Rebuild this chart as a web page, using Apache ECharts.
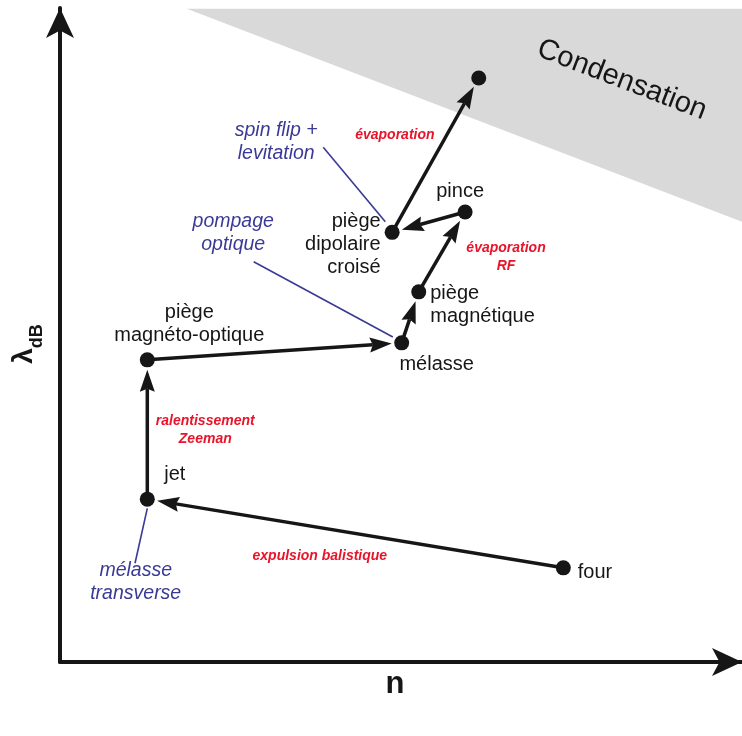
<!DOCTYPE html>
<html><head><meta charset="utf-8">
<script src="https://cdn.jsdelivr.net/npm/echarts@6/dist/echarts.min.js"></script>
<style>html,body{margin:0;padding:0;background:#fff}#c{width:742px;height:736px}</style>
</head><body><div id="c"></div>
<script>
// Stages of the cooling path (schematic units: n on x, lambda_dB on y)
const stageNames = ['four','jet','piège\nmagnéto-optique','mélasse','piège\nmagnétique','pince','piège\ndipolaire\ncroisé',''];
const stageN      = [73.8, 12.8, 12.8, 50.1, 52.6, 59.4, 48.7, 61.4];
const stageLambda = [14.4, 24.9, 46.2, 48.8, 56.6, 68.8, 65.7, 89.3];
// transitions (from index -> to index)
const stepFrom = [0, 1, 2, 3, 4, 5, 6];
const stepTo   = [1, 2, 3, 4, 5, 6, 7];
// condensation region boundary
const condN      = [18.6, 100, 100];
const condLambda = [99.9, 99.9, 67.3];
const condLabel = 'Condensation';
const condLabelPos = [82.4, 89.0];
// red process annotations
const procText   = ['évaporation', 'évaporation\nRF', 'ralentissement\nZeeman', 'expulsion balistique'];
const procN      = [49.1, 65.4, 21.3, 38.1];
const procLambda = [80.6, 61.9, 35.5, 16.2];
// blue technique annotations with leader lines
const techText   = ['spin flip +\nlevitation', 'pompage\noptique', 'mélasse\ntransverse'];
const techN      = [31.7, 25.4, 11.1];
const techLambda = [79.5, 65.6, 12.2];
const leadN1 = [38.6, 28.4, 12.8], leadL1 = [78.7, 61.2, 23.5];
const leadN2 = [47.7, 48.8, 11.0], leadL2 = [67.3, 49.7, 15.1];

const BLACK = '#161616', RED = '#e8142a', BLUE = '#3a3a96', GRAY = '#d9d9d9';
const FONT = '"Liberation Sans", Arial, sans-serif';

// label placement per stage
const labelCfg = [
  {position:'right', offset:[2,5], align:'left'},
  {position:'top', offset:[17,-1], align:'left'},
  {position:'top', offset:[42,0], align:'center'},
  {position:'bottom', offset:[35,-2], align:'center'},
  {position:'right', offset:[-1,13], align:'left'},
  {position:'top', offset:[-5,3], align:'center'},
  {position:'left', offset:[1,12], align:'right'},
  {show:false}
];

const chart = echarts.init(document.getElementById('c'), null, {renderer:'canvas'});

const axisBase = {
  type:'value', min:0, max:100,
  axisTick:{show:false}, axisLabel:{show:false}, splitLine:{show:false},
  axisLine:{show:true, symbol:['none','arrow'], symbolSize:[21,30], lineStyle:{color:BLACK, width:4}}
};

chart.setOption({
  animation:false,
  backgroundColor:'#fff',
  grid:{left:60, right:0, top:8, bottom:74},
  xAxis: Object.assign({}, axisBase, {
    name:'n', nameLocation:'middle', nameGap:7,
    nameTextStyle:{fontFamily:FONT, fontWeight:'bold', fontSize:31, color:BLACK, verticalAlign:'top', padding:[0,12,0,0]}
  }),
  yAxis: Object.assign({}, axisBase, {
    name:'{l|λ}{s|dB}', nameLocation:'middle', nameGap:14, nameRotate:90,
    nameTextStyle:{color:BLACK, rich:{
      l:{fontFamily:FONT, fontWeight:'bold', fontSize:28, color:BLACK, padding:[0,0,8,0], verticalAlign:'bottom'},
      s:{fontFamily:FONT, fontWeight:'bold', fontSize:18, color:BLACK, verticalAlign:'bottom', padding:[0,18,0,0]}
    }}
  }),
  series:[
    { // condensation region
      type:'custom', coordinateSystem:'cartesian2d', clip:false, silent:true, z:1,
      data:[0],
      renderItem:function(params, api){
        const pts = condN.map((n,i)=>api.coord([n, condLambda[i]]));
        const c = api.coord(condLabelPos);
        return {type:'group', children:[
          {type:'polygon', shape:{points:pts}, style:{fill:GRAY}},
          {type:'text', x:c[0], y:c[1], rotation:-21*Math.PI/180,
           style:{text:condLabel, fill:BLACK, font:'29px '+FONT, align:'center', verticalAlign:'middle'}}
        ]};
      }
    },
    { // leader lines
      type:'custom', coordinateSystem:'cartesian2d', clip:false, silent:true, z:2,
      data:techText.map((t,i)=>[leadN1[i], leadL1[i], leadN2[i], leadL2[i]]),
      renderItem:function(params, api){
        const a = api.coord([api.value(0), api.value(1)]);
        const b = api.coord([api.value(2), api.value(3)]);
        return {type:'line', shape:{x1:a[0],y1:a[1],x2:b[0],y2:b[1]}, style:{stroke:BLUE, lineWidth:1.6}};
      }
    },
    { // transition arrows
      type:'custom', coordinateSystem:'cartesian2d', clip:false, silent:true, z:3,
      data:stepFrom.map((f,i)=>[stageN[f], stageLambda[f], stageN[stepTo[i]], stageLambda[stepTo[i]]]),
      renderItem:function(params, api){
        const a = api.coord([api.value(0), api.value(1)]);
        const b = api.coord([api.value(2), api.value(3)]);
        const dx=b[0]-a[0], dy=b[1]-a[1], L=Math.hypot(dx,dy);
        const ux=dx/L, uy=dy/L, nx=-uy, ny=ux;
        const gap=10, headLen=22, headW=7.5, notch=3;
        const tip=[b[0]-ux*gap, b[1]-uy*gap];
        const base=[tip[0]-ux*headLen, tip[1]-uy*headLen];
        const np=[tip[0]-ux*(headLen-notch), tip[1]-uy*(headLen-notch)];
        return {type:'group', children:[
          {type:'line', shape:{x1:a[0],y1:a[1],x2:np[0],y2:np[1]}, style:{stroke:BLACK, lineWidth:3.5}},
          {type:'polygon', shape:{points:[tip,[base[0]+nx*headW,base[1]+ny*headW],np,[base[0]-nx*headW,base[1]-ny*headW]]}, style:{fill:BLACK}}
        ]};
      }
    },
    { // stages
      type:'scatter', symbol:'circle', symbolSize:15, z:4, silent:true,
      itemStyle:{color:BLACK, opacity:1},
      data:stageN.map((n,i)=>({
        value:[n, stageLambda[i]], name:stageNames[i],
        label:Object.assign({show:true, formatter:'{b}', color:BLACK, fontFamily:FONT, fontSize:20, lineHeight:23, distance:5}, labelCfg[i])
      }))
    },
    { // annotations
      type:'custom', coordinateSystem:'cartesian2d', clip:false, silent:true, z:5,
      data:procText.map((t,i)=>[procN[i], procLambda[i], 0, i]).concat(techText.map((t,i)=>[techN[i], techLambda[i], 1, i])),
      renderItem:function(params, api){
        const c = api.coord([api.value(0), api.value(1)]);
        const kind = api.value(2), idx = api.value(3);
        const isProc = kind === 0;
        return {type:'text', x:c[0], y:c[1], style:{
          text: isProc ? procText[idx] : techText[idx],
          fill: isProc ? RED : BLUE,
          font: isProc ? 'italic bold 14px '+FONT : 'italic 19.5px '+FONT,
          lineHeight: isProc ? 18 : 23,
          align:'center', verticalAlign:'middle'
        }};
      }
    }
  ]
});
</script></body></html>
